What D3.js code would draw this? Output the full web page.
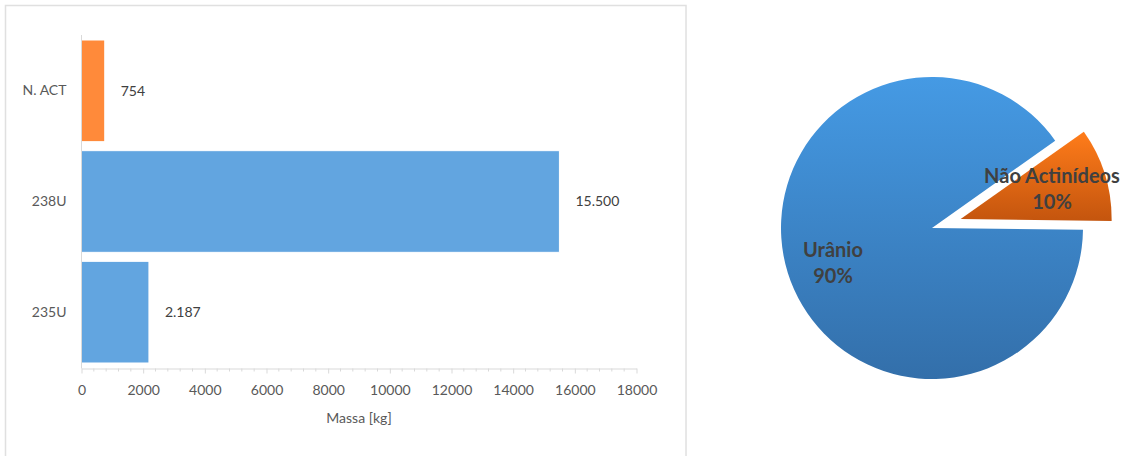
<!DOCTYPE html>
<html>
<head>
<meta charset="utf-8">
<script src="https://cdn.jsdelivr.net/npm/d3@7"></script>
<style>
  html, body { margin: 0; padding: 0; background: #fff; }
  svg { display: block; font-family: Lato, "Open Sans", sans-serif; }
</style>
</head>
<body>
<svg id="chart" width="1126" height="456"></svg>
<script>
// Mass inventory (kg) per component
const categories = ["N. ACT", "238U", "235U"];
const massValues = [754, 15500, 2187];
const massLabels = ["754", "15.500", "2.187"];
const barColors = ["#FF8A3A", "#62A5E0", "#62A5E0"];
const xTicks = [0, 2000, 4000, 6000, 8000, 10000, 12000, 14000, 16000, 18000];
const xTitle = "Massa [kg]";

// Share of the total mass
const pieNames = ["Urânio", "Não Actinídeos"];
const pieShares = [90, 10];
const pieLabels = ["90%", "10%"];

const svg = d3.select("#chart");

// ---- bar chart panel ----
svg.append("rect")
  .attr("x", 5.5).attr("y", 5.5)
  .attr("width", 680.5).attr("height", 460)
  .attr("fill", "none").attr("stroke", "#e0e0e0").attr("stroke-width", 1.5);

const x = d3.scaleLinear().domain([0, 18000]).range([81.5, 636.5]);
const y = d3.scaleBand().domain(categories).range([35, 368])
  .paddingInner(0.0813).paddingOuter(0.0452);
const axisY = 368.5;

const bars = svg.append("g");
bars.selectAll("rect")
  .data(categories)
  .join("rect")
  .attr("x", x(0))
  .attr("y", d => y(d))
  .attr("width", (d, i) => x(massValues[i]) - x(0))
  .attr("height", y.bandwidth())
  .attr("fill", (d, i) => barColors[i])
  .attr("stroke", "#ffffff").attr("stroke-width", 1);

bars.selectAll("text.val")
  .data(categories)
  .join("text")
  .attr("class", "val")
  .attr("x", (d, i) => x(massValues[i]) + 16)
  .attr("y", d => y(d) + y.bandwidth() / 2)
  .attr("dy", "0.35em")
  .attr("font-size", 14)
  .attr("fill", "#404040")
  .text((d, i) => massLabels[i]);

// category axis
const yAxis = d3.axisLeft(y).tickSize(0).tickPadding(15);
const gy = svg.append("g").attr("transform", `translate(${x(0)},0)`).call(yAxis);
gy.select(".domain").attr("stroke", "#d9d9d9").attr("d", `M0,35V${axisY}`);
gy.selectAll("text").attr("font-size", 14).attr("fill", "#595959")
  .attr("font-family", "Lato, sans-serif");

// value axis with minor ticks
const minor = d3.range(0, 18001, 400).filter(v => v % 2000 !== 0);
const gm = svg.append("g").attr("transform", `translate(0,${axisY})`);
gm.selectAll("line").data(minor).join("line")
  .attr("x1", d => x(d)).attr("x2", d => x(d))
  .attr("y1", 0).attr("y2", 3)
  .attr("stroke", "#d9d9d9");

const xAxis = d3.axisBottom(x).tickValues(xTicks).tickFormat(d3.format("d"))
  .tickSizeInner(5).tickSizeOuter(0).tickPadding(12);
const gx = svg.append("g").attr("transform", `translate(0,${axisY})`).call(xAxis);
gx.select(".domain").attr("stroke", "#d9d9d9");
gx.selectAll(".tick line").attr("stroke", "#d9d9d9");
gx.selectAll("text").attr("font-size", 14).attr("fill", "#595959")
  .attr("font-family", "Lato, sans-serif");

svg.append("text")
  .attr("x", 359).attr("y", 418).attr("dy", "0.35em")
  .attr("text-anchor", "middle")
  .attr("font-size", 14).attr("fill", "#595959")
  .text(xTitle);

// ---- pie chart ----
const defs = svg.append("defs");
const grads = [
  { id: "gBlue", top: "#459AE4", bottom: "#336FAA" },
  { id: "gOrange", top: "#FF7C1A", bottom: "#C4550E" }
];
grads.forEach(g => {
  const lg = defs.append("linearGradient").attr("id", g.id)
    .attr("x1", 0).attr("y1", 0).attr("x2", 0).attr("y2", 1);
  lg.append("stop").attr("offset", "0%").attr("stop-color", g.top);
  lg.append("stop").attr("offset", "100%").attr("stop-color", g.bottom);
});
const fills = ["url(#gBlue)", "url(#gOrange)"];

const cx = 932, cy = 228, radius = 151;
const pie = d3.pie().sort(null).value(d => d)
  .startAngle(Math.PI / 2 + 0.012).endAngle(Math.PI / 2 + 0.012 + 2 * Math.PI);
const arcs = pie(pieShares);
const arc = d3.arc().innerRadius(0).outerRadius(radius);
const explode = [0, 30];

const pg = svg.append("g").attr("transform", `translate(${cx},${cy})`);
pg.selectAll("path")
  .data(arcs)
  .join("path")
  .attr("transform", (d, i) => {
    const a = (d.startAngle + d.endAngle) / 2;
    return `translate(${Math.sin(a) * explode[i]},${-Math.cos(a) * explode[i]})`;
  })
  .attr("d", arc)
  .attr("fill", (d, i) => fills[i])
  .attr("stroke", "none");

// slice labels
const labelPos = [[833 - cx, 250 - cy], [1052 - cx, 176 - cy]];
const lg = pg.selectAll("g.lab").data(arcs).join("g").attr("class", "lab")
  .attr("transform", (d, i) => `translate(${labelPos[i][0]},${labelPos[i][1]})`);
lg.append("text").attr("text-anchor", "middle").attr("dy", "0.35em")
  .attr("font-size", 20).attr("font-weight", "bold").attr("fill", "#404040")
  .text((d, i) => pieNames[i]);
lg.append("text").attr("text-anchor", "middle").attr("y", 26).attr("dy", "0.35em")
  .attr("font-size", 20).attr("font-weight", "bold").attr("fill", "#404040")
  .text((d, i) => pieLabels[i]);
</script>
</body>
</html>
